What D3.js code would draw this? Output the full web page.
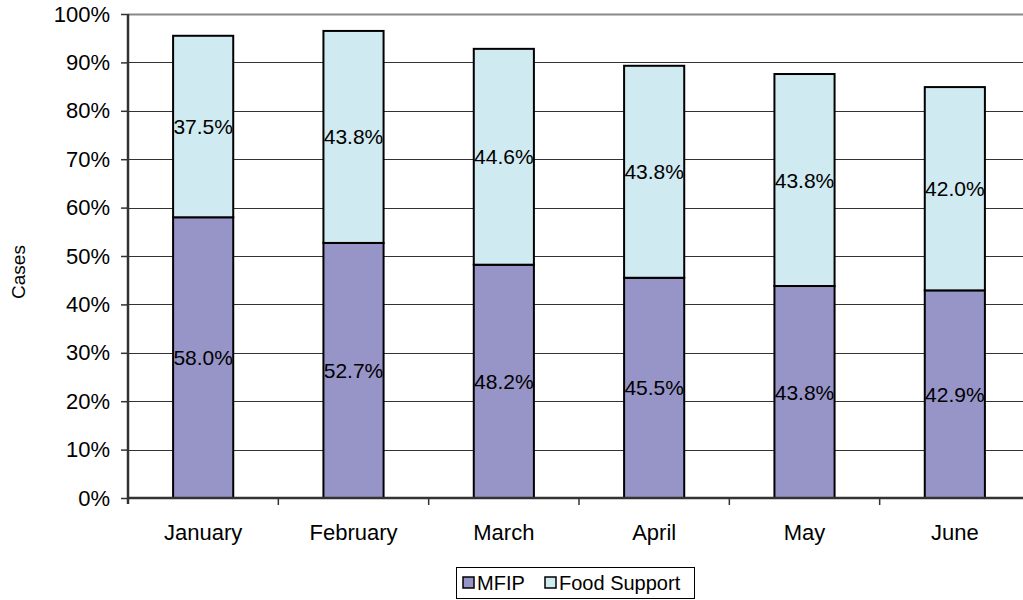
<!DOCTYPE html>
<html>
<head>
<meta charset="utf-8">
<script src="https://cdn.jsdelivr.net/npm/d3@7"></script>
<style>
  body { margin: 0; background: #fff; }
  text { font-family: "Liberation Sans", Arial, sans-serif; fill: #000; }
</style>
</head>
<body>
<svg id="chart" width="1023" height="600"></svg>
<script>
// chart values
const months = ["January", "February", "March", "April", "May", "June"];
const mfip = [58.0, 52.7, 48.2, 45.5, 43.8, 42.9];
const foodSupport = [37.5, 43.8, 44.6, 43.8, 43.8, 42.0];
const yTicks = [0, 10, 20, 30, 40, 50, 60, 70, 80, 90, 100];
const seriesNames = ["MFIP", "Food Support"];
const seriesColors = ["#9794c8", "#cfeaf0"];

const svg = d3.select("#chart");

const plotLeft = 128, plotRight = 1030, plotTop = 14, plotBottom = 498;

let x = d3.scaleBand()
    .domain(months)
    .range([plotLeft, plotRight])
    .paddingInner(0.6)
    .paddingOuter(0.3);

let y = d3.scaleLinear()
    .domain([0, 100])
    .range([plotBottom, plotTop]);

// gridlines
svg.append("g")
    .selectAll("line")
    .data(yTicks.filter(d => d > 0 && d < 100))
    .join("line")
    .attr("x1", plotLeft)
    .attr("x2", 1023)
    .attr("y1", d => Math.round(y(d)) + 0.5)
    .attr("y2", d => Math.round(y(d)) + 0.5)
    .style("stroke", "#333")
    .style("stroke-width", 1);

// top border of plot area
svg.append("line")
    .attr("x1", plotLeft)
    .attr("x2", 1023)
    .attr("y1", y(100) + 0.5)
    .attr("y2", y(100) + 0.5)
    .style("stroke", "#888")
    .style("stroke-width", 2);

// stacked bars
let rows = months.map((m, i) => ({month: m, vals: [mfip[i], foodSupport[i]]}));

rows.forEach(r => {
    let base = 0;
    r.vals.forEach((v, s) => {
        let g = svg.append("g");
        g.append("rect")
            .attr("x", x(r.month))
            .attr("y", y(base + v))
            .attr("width", x.bandwidth())
            .attr("height", y(base) - y(base + v))
            .style("fill", seriesColors[s])
            .style("stroke", "#000")
            .style("stroke-width", 2);
        g.append("text")
            .attr("x", x(r.month) + x.bandwidth() / 2)
            .attr("y", y(base + v / 2))
            .attr("dy", "0.36em")
            .attr("text-anchor", "middle")
            .style("font-size", "21px")
            .text(v.toFixed(1) + "%");
        base += v;
    });
});

// y axis
let yAxis = svg.append("g")
    .attr("transform", `translate(${plotLeft},0)`)
    .call(d3.axisLeft(y).tickValues(yTicks).tickSize(7).tickPadding(11).tickFormat(d => d + "%"));
yAxis.select(".domain").remove();
yAxis.selectAll(".tick line").style("stroke", "#333").style("stroke-width", 1.5);
yAxis.selectAll(".tick text")
    .style("font-size", "22px")
    .style("font-family", "Liberation Sans, Arial, sans-serif");
svg.append("line")
    .attr("x1", plotLeft).attr("x2", plotLeft)
    .attr("y1", plotTop).attr("y2", plotBottom + 6)
    .style("stroke", "#333")
    .style("stroke-width", 2.5);

// x axis
svg.append("line")
    .attr("x1", plotLeft).attr("x2", 1023)
    .attr("y1", plotBottom).attr("y2", plotBottom)
    .style("stroke", "#333")
    .style("stroke-width", 2.5);
svg.append("g")
    .selectAll("line")
    .data(months.slice(1))
    .join("line")
    .attr("x1", d => x(d) - x.step() * 0.3)
    .attr("x2", d => x(d) - x.step() * 0.3)
    .attr("y1", plotBottom)
    .attr("y2", plotBottom + 7)
    .style("stroke", "#333")
    .style("stroke-width", 1.5);
svg.append("g")
    .selectAll("text")
    .data(months)
    .join("text")
    .attr("x", d => x(d) + x.bandwidth() / 2)
    .attr("y", 540)
    .attr("text-anchor", "middle")
    .style("font-size", "22px")
    .text(d => d);

// y title
svg.append("text")
    .attr("transform", "translate(25,272) rotate(-90)")
    .attr("text-anchor", "middle")
    .style("font-size", "19px")
    .text("Cases");

// legend
let legend = svg.append("g");
legend.append("rect")
    .attr("x", 456.5).attr("y", 567.5)
    .attr("width", 238).attr("height", 31)
    .style("fill", "#fff")
    .style("stroke", "#000")
    .style("stroke-width", 1);
let legendX = [463, 545];
seriesNames.forEach((n, i) => {
    legend.append("rect")
        .attr("x", legendX[i]).attr("y", 577)
        .attr("width", 11).attr("height", 11)
        .style("fill", seriesColors[i])
        .style("stroke", "#000")
        .style("stroke-width", 1.5);
    legend.append("text")
        .attr("x", legendX[i] + 14)
        .attr("y", 590)
        .style("font-size", "20px")
        .text(n);
});
</script>
</body>
</html>
